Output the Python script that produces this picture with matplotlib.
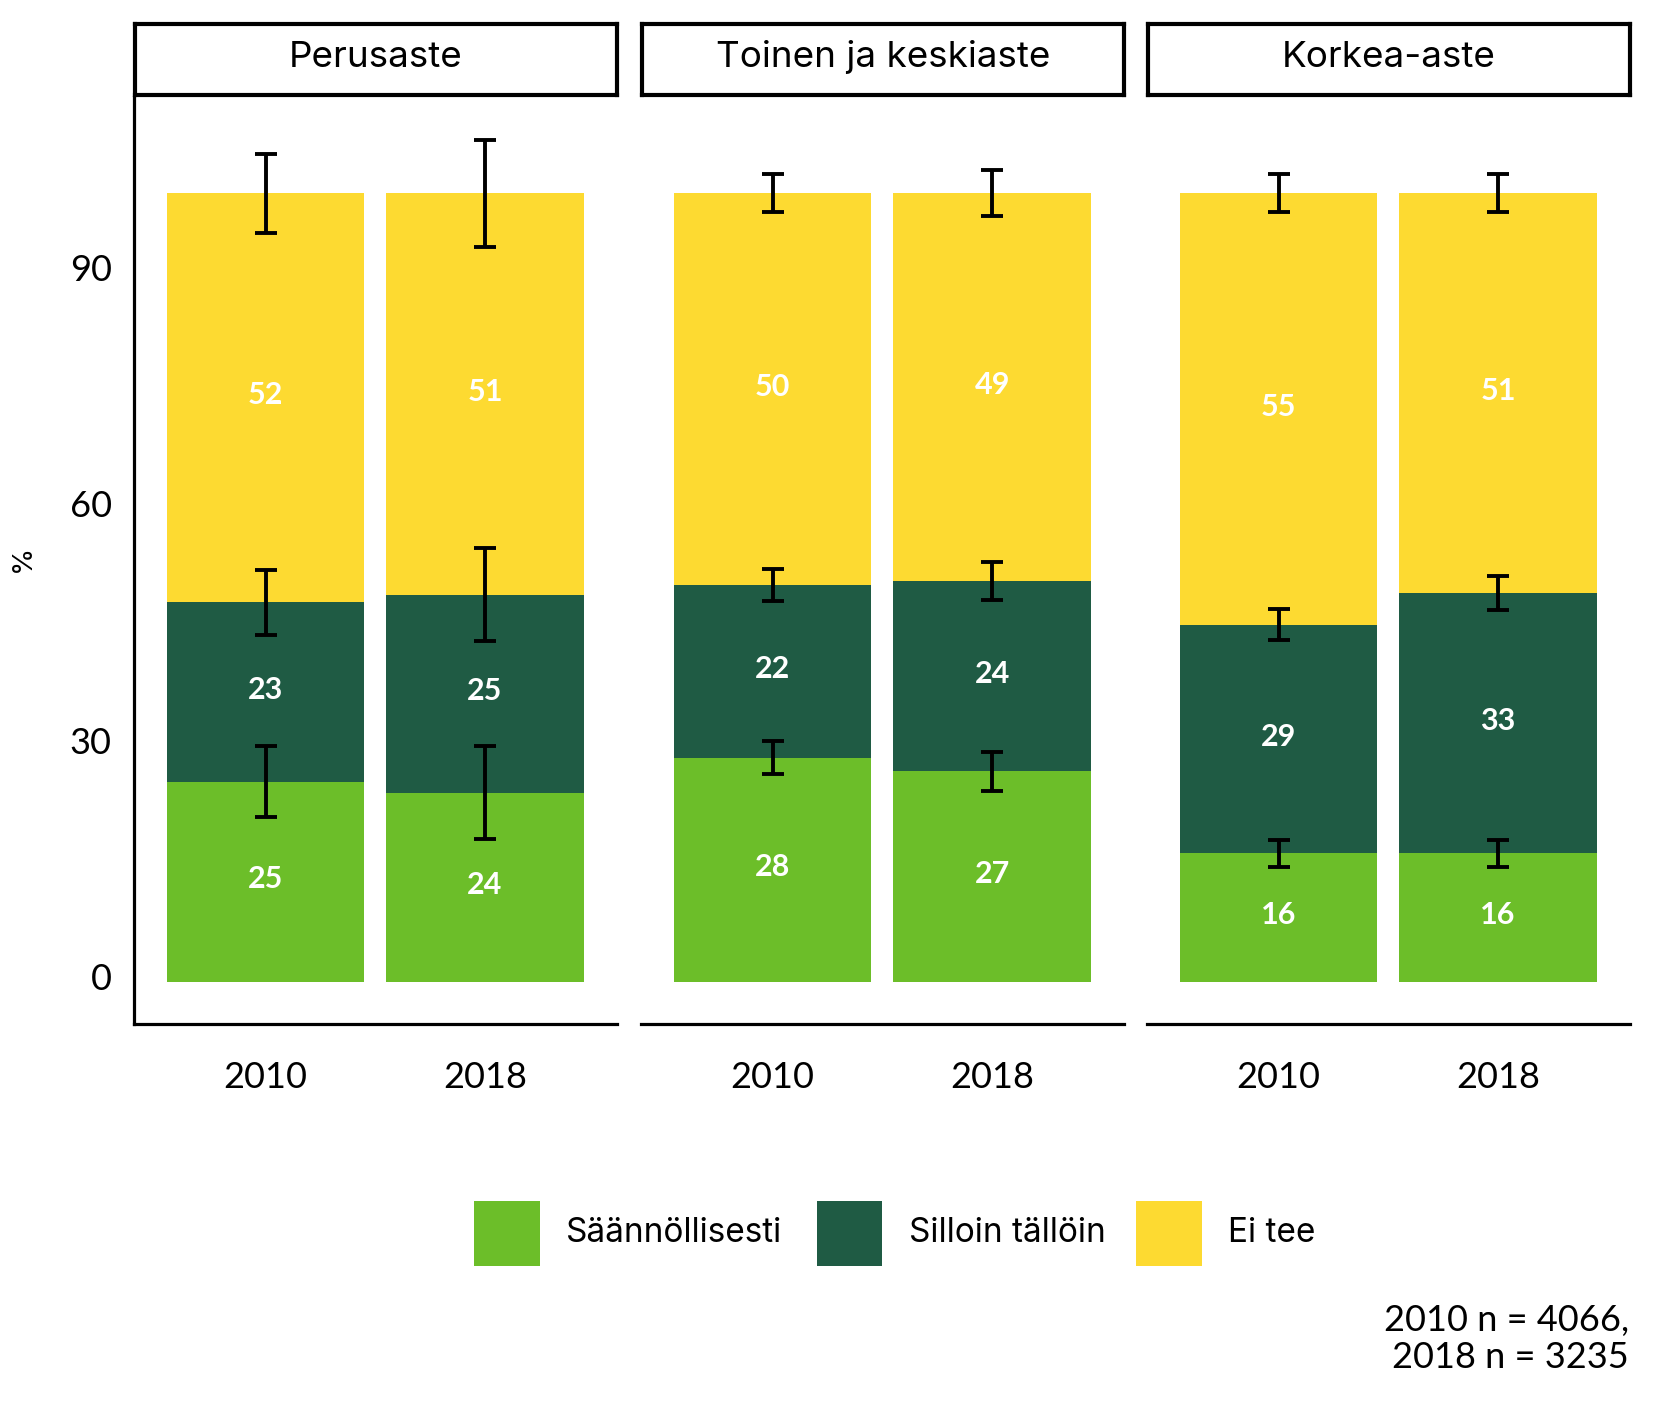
import matplotlib
matplotlib.use("Agg")
import matplotlib.pyplot as plt
import numpy as np
from matplotlib.patches import Rectangle
from matplotlib.transforms import ScaledTranslation

plt.rcParams['font.family'] = ['Lato', 'DejaVu Sans']
WORD_FONT = ['Inter', 'Lato', 'DejaVu Sans']

# ---- data ----
categories = ["Perusaste", "Toinen ja keskiaste", "Korkea-aste"]
years = ["2010", "2018"]
series = ["Säännöllisesti", "Silloin tällöin", "Ei tee"]
saannollisesti = [[25.4, 24.0], [28.4, 26.7], [16.3, 16.3]]
silloin_tallloin = [[22.7, 25.1], [21.9, 24.1], [29.0, 33.0]]
ei_tee = [[51.9, 50.9], [49.7, 49.2], [54.7, 50.7]]
err_saannollisesti = [[4.5, 5.9], [2.1, 2.5], [1.7, 1.7]]
err_silloin = [[4.1, 5.9], [2.0, 2.4], [2.0, 2.2]]
err_ei_tee = [[5.0, 6.8], [2.4, 2.9], [2.4, 2.4]]
yticks = [0, 30, 60, 90]
caption = "2010 n = 4066,\n2018 n = 3235"
ylabel = "%"

colors = ["#6CBE29", "#1F5B44", "#FDDA31"]

W, H = 1653, 1417
fig = plt.figure(figsize=(W / 100, H / 100), dpi=100)

panel_lefts = [133.9, 641.0, 1147.0]
panel_w = 482.8
top_px, bot_px = 97.0, 1023.6
strip_top, strip_bot = 24.2, 94.9

for i, cat in enumerate(categories):
    ax = fig.add_axes([panel_lefts[i] / W, 1 - bot_px / H, panel_w / W, (bot_px - top_px) / H])
    x = np.arange(1, len(years) + 1)
    s = np.array(saannollisesti[i])
    m = np.array(silloin_tallloin[i])
    e = np.array(ei_tee[i])
    stacks = [s, m, e]
    bottom = np.zeros(len(years))
    for k, vals in enumerate(stacks):
        ax.bar(x, vals, bottom=bottom, width=0.9, color=colors[k], linewidth=0, zorder=1)
        for j in range(len(years)):
            ax.text(x[j], bottom[j] + vals[j] / 2 + 0.3, f"{vals[j]:.0f}", ha='center', va='center',
                    color='white', fontsize=22, fontweight='bold', zorder=3)
        bottom = bottom + vals
    cum1 = s
    cum2 = s + m
    cum3 = s + m + e
    for pos, err in [(cum1, err_saannollisesti[i]), (cum2, err_silloin[i]), (cum3, err_ei_tee[i])]:
        ax.errorbar(x, pos, yerr=err, fmt='none', ecolor='black', elinewidth=2.8,
                    capsize=7.8, capthick=2.8, zorder=4)
    ax.set_xlim(0.4, 2.6)
    ax.set_ylim(-5.3, 112.2)
    ax.set_xticks(x)
    ax.set_xticklabels(years)
    ax.tick_params(axis='x', length=0, pad=27, labelsize=26)
    ax.set_yticks(yticks)
    if i == 0:
        ax.tick_params(axis='y', length=0, pad=16, labelsize=26)
        off = ScaledTranslation(0, 5.0 / 100, fig.dpi_scale_trans)
        for lab in ax.get_yticklabels():
            lab.set_transform(lab.get_transform() + off)
        ax.spines['left'].set_linewidth(2.3)
    else:
        ax.tick_params(axis='y', length=0, labelleft=False)
        ax.spines['left'].set_visible(False)
    ax.spines['top'].set_visible(False)
    ax.spines['right'].set_visible(False)
    ax.spines['bottom'].set_linewidth(2.3)

    # strip
    sax = fig.add_axes([(panel_lefts[i] + 1) / W, 1 - strip_bot / H, (panel_w - 1) / W, (strip_bot - strip_top) / H])
    sax.set_xticks([])
    sax.set_yticks([])
    for sp in sax.spines.values():
        sp.set_linewidth(3.0)
        sp.set_color('black')
    sax.text(0.5, 0.53, cat, ha='center', va='center', fontsize=26.5, family=WORD_FONT,
             transform=sax.transAxes)

fig.text(23 / W, 1 - 558 / H, ylabel, rotation=90, ha='center', va='center', fontsize=20, family=WORD_FONT)

# legend (keys + labels), placed below panels
key_lefts = [474.4, 817.0, 1136.4]
key_size = 65.4
key_top = 1200.7
for k, name in enumerate(series):
    fig.add_artist(Rectangle((key_lefts[k] / W, 1 - (key_top + key_size) / H), key_size / W, key_size / H,
                             transform=fig.transFigure, facecolor=colors[k], edgecolor='none'))
    fig.text((key_lefts[k] + key_size + 26.3) / W, 1 - (key_top + key_size / 2) / H, name,
             ha='left', va='center', fontsize=24, family=WORD_FONT)

fig.text(1628.7 / W, 1 - 1339 / H, caption, ha='right', va='center', fontsize=26,
         multialignment='right', linespacing=1.15)

fig.savefig("out.png", dpi=100, facecolor='white')
